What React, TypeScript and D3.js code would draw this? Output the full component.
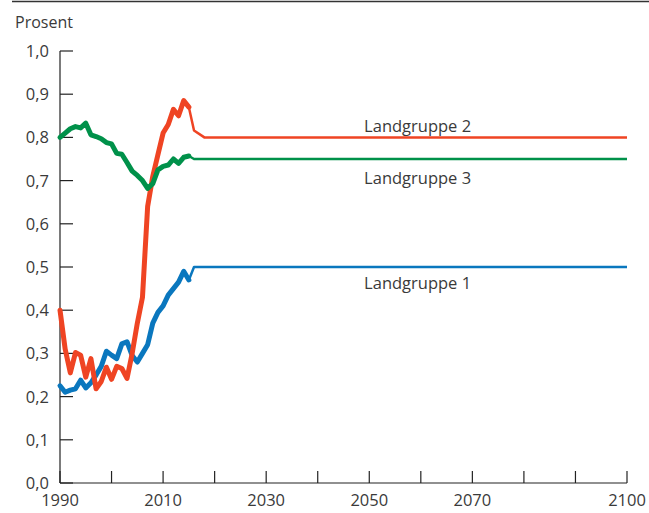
import React from 'react';
import * as d3 from 'd3';

// Historical values, 1990-2015
const years = d3.range(1990, 2016);
const group1 = [0.225, 0.21, 0.215, 0.218, 0.238, 0.22, 0.232, 0.25, 0.27, 0.305, 0.296, 0.288, 0.322, 0.327, 0.295, 0.28, 0.3, 0.32, 0.37, 0.395, 0.41, 0.435, 0.45, 0.465, 0.49, 0.47];
const group2 = [0.4, 0.31, 0.255, 0.302, 0.296, 0.245, 0.288, 0.218, 0.235, 0.268, 0.24, 0.27, 0.265, 0.242, 0.3, 0.37, 0.43, 0.64, 0.71, 0.76, 0.81, 0.83, 0.865, 0.85, 0.885, 0.87];
const group3 = [0.8, 0.81, 0.82, 0.825, 0.822, 0.833, 0.806, 0.802, 0.797, 0.788, 0.785, 0.763, 0.761, 0.742, 0.722, 0.712, 0.7, 0.682, 0.693, 0.725, 0.733, 0.736, 0.75, 0.74, 0.754, 0.757];

// Projections, 2015-2100
const projYears1 = [2015, 2016, 2100];
const proj1 = [0.47, 0.5, 0.5];
const projYears2 = [2015, 2016, 2018, 2100];
const proj2 = [0.87, 0.816, 0.8, 0.8];
const projYears3 = [2015, 2016, 2100];
const proj3 = [0.757, 0.75, 0.75];

const yTicks = [0, 0.1, 0.2, 0.3, 0.4, 0.5, 0.6, 0.7, 0.8, 0.9, 1.0];
const xTicks = d3.range(1990, 2101, 10);
const xLabels = [1990, 2010, 2030, 2050, 2070, 2100];

const series = [
  { name: 'Landgruppe 1', hist: group1, projX: projYears1, proj: proj1, color: '#0a77be', labelYear: 2049, labelValue: 0.448 },
  { name: 'Landgruppe 2', hist: group2, projX: projYears2, proj: proj2, color: '#ef4423', labelYear: 2049, labelValue: 0.813 },
  { name: 'Landgruppe 3', hist: group3, projX: projYears3, proj: proj3, color: '#00914a', labelYear: 2049, labelValue: 0.692 },
];

const font = '"Open Sans", sans-serif';
const textColor = '#3a3a3a';

export default function App() {
  const width = 649;
  const height = 513;
  const x = d3.scaleLinear().domain([1990, 2100]).range([60, 627]);
  const y = d3.scaleLinear().domain([0, 1]).range([483, 51]);
  const line = d3.line<[number, number]>().x(d => x(d[0])).y(d => y(d[1]));
  const fmt = (v: number) => v.toFixed(1).replace('.', ',');

  return (
    <svg width={width} height={height} style={{ position: 'absolute', left: 0, top: 0, background: '#fff' }}>
      <line x1={12} x2={649} y1={1.5} y2={1.5} stroke="#333" strokeWidth={1.5} />
      <text x={15} y={28} fontFamily={font} fontSize={16} fill={textColor}>Prosent</text>

      {/* y axis */}
      <line x1={x(1990)} x2={x(1990)} y1={y(1)} y2={y(0)} stroke="#222" strokeWidth={1.2} />
      {yTicks.map(t => (
        <g key={t}>
          <line x1={x(1990)} x2={x(1990) + 13} y1={y(t)} y2={y(t)} stroke="#222" strokeWidth={1.2} />
          <text x={49} y={y(t)} dy="0.36em" textAnchor="end" fontFamily={font} fontSize={16.5} fill={textColor}>{fmt(t)}</text>
        </g>
      ))}

      {/* x axis */}
      <line x1={x(1990)} x2={x(2100)} y1={y(0)} y2={y(0)} stroke="#222" strokeWidth={1.2} />
      {xTicks.map(t => (
        <line key={t} x1={x(t)} x2={x(t)} y1={y(0)} y2={y(0) - 12} stroke="#222" strokeWidth={1.2} />
      ))}
      {xLabels.map(t => (
        <text key={t} x={x(t)} y={y(0) + 23} textAnchor="middle" fontFamily={font} fontSize={16.5} fill={textColor}>{t}</text>
      ))}

      {/* lines */}
      {series.map(s => (
        <g key={s.name}>
          <path
            d={line(s.projX.map((yr, i) => [yr, s.proj[i]] as [number, number])) || ''}
            fill="none" stroke={s.color} strokeWidth={2.5} strokeLinejoin="round"
          />
          <path
            d={line(years.map((yr, i) => [yr, s.hist[i]] as [number, number])) || ''}
            fill="none" stroke={s.color} strokeWidth={5} strokeLinejoin="round" strokeLinecap="round"
          />
        </g>
      ))}

      {/* labels */}
      {series.map(s => (
        <text key={s.name} x={x(s.labelYear)} y={y(s.labelValue)} fontFamily={font} fontSize={16.5} fill={textColor}>{s.name}</text>
      ))}
    </svg>
  );
}
